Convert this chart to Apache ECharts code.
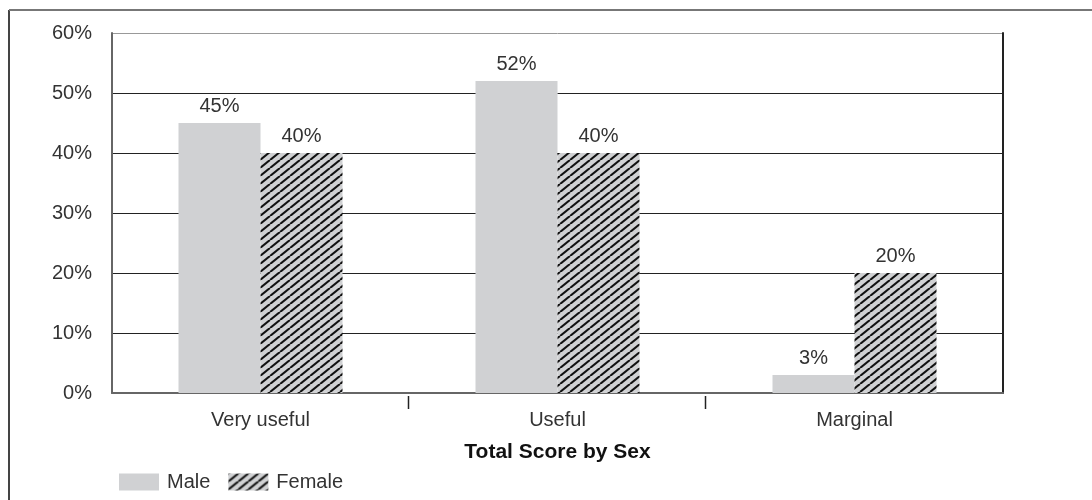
<!DOCTYPE html>
<html>
<head>
<meta charset="utf-8">
<script src="https://cdn.jsdelivr.net/npm/echarts@6/dist/echarts.min.js"></script>
<style>
html,body{margin:0;padding:0;background:#fff;}
#chart{width:1092px;height:500px;}
</style>
</head>
<body>
<div id="chart"></div>
<script>
const categories = ['Very useful', 'Useful', 'Marginal'];
const maleValues = [45, 52, 3];
const femaleValues = [40, 40, 20];
const yTicks = [0, 10, 20, 30, 40, 50, 60];
const seriesNames = ['Male', 'Female'];
const axisTitle = 'Total Score by Sex';

function hatch() {
  const c = document.createElement('canvas');
  c.width = 10; c.height = 8;
  const g = c.getContext('2d');
  g.fillStyle = '#d0d1d3';
  g.fillRect(0, 0, 10, 8);
  g.strokeStyle = '#111';
  g.lineWidth = 2.1;
  [-10, 0, 10].forEach(function (dx) {
    g.beginPath();
    g.moveTo(dx, 8);
    g.lineTo(dx + 10, 0);
    g.stroke();
  });
  return c;
}

const FONT = 'Liberation Sans';
const FS = 20;
const chart = echarts.init(document.getElementById('chart'));
const option = {
  animation: false,
  textStyle: { fontFamily: FONT },
  grid: { left: 112, right: 89, top: 33, bottom: 107, containLabel: false },
  legend: {
    left: 114, top: 467,
    itemWidth: 40, itemHeight: 17, itemGap: 18,
    icon: 'rect',
    textStyle: { fontSize: FS, color: '#333', fontFamily: FONT, padding: [0, 0, 0, 3] },
    data: seriesNames
  },
  xAxis: {
    type: 'category',
    data: categories,
    axisLine: { lineStyle: { color: '#666', width: 2 } },
    axisTick: { show: false },
    axisLabel: { fontSize: FS, color: '#333', margin: 17 },
    name: axisTitle,
    nameLocation: 'middle',
    nameGap: 49,
    nameTextStyle: { fontSize: 21, fontWeight: 'bold', color: '#111' }
  },
  yAxis: [{
    type: 'value',
    min: yTicks[0], max: yTicks[yTicks.length - 1], interval: 10,
    axisLine: { show: true, lineStyle: { color: '#666', width: 2 } },
    axisTick: { show: false },
    axisLabel: { fontSize: FS, color: '#333', margin: 20, formatter: '{value}%' },
    splitLine: { show: true, lineStyle: { color: ['#222','#222','#222','#222','#222','#222','#999'], width: 1 } }
  }, {
    type: 'value', position: 'right',
    min: yTicks[0], max: yTicks[yTicks.length - 1], interval: 10,
    axisLine: { show: true, lineStyle: { color: '#222', width: 2 } },
    axisTick: { show: false }, axisLabel: { show: false }, splitLine: { show: false }
  }],
  series: [{
    name: seriesNames[0], type: 'bar', data: maleValues,
    barWidth: 82, barGap: '0%',
    itemStyle: { color: '#d0d1d3' },
    label: { show: true, position: 'top', distance: 7, fontSize: FS, color: '#333', formatter: '{c}%' }
  }, {
    name: seriesNames[1], type: 'bar', data: femaleValues,
    barWidth: 82,
    itemStyle: { color: { image: hatch(), repeat: 'repeat' } },
    label: { show: true, position: 'top', distance: 7, fontSize: FS, color: '#333', formatter: '{c}%' }
  }]
};
chart.setOption(option);

// interior category boundary ticks, placed via the axis scale
const graphics = [
  { type: 'line', shape: { x1: 9, y1: 10, x2: 9, y2: 500 }, style: { stroke: '#444', lineWidth: 2 } },
  { type: 'line', shape: { x1: 9, y1: 10, x2: 1092, y2: 10 }, style: { stroke: '#777', lineWidth: 2 } }
];
const y0 = chart.convertToPixel({ yAxisIndex: 0 }, 0);
for (let i = 1; i < categories.length; i++) {
  const a = chart.convertToPixel({ xAxisIndex: 0 }, categories[i - 1]);
  const b = chart.convertToPixel({ xAxisIndex: 0 }, categories[i]);
  const x = Math.round((a + b) / 2) - 0.5;
  graphics.push({ type: 'line', shape: { x1: x, y1: y0 + 3, x2: x, y2: y0 + 16 }, style: { stroke: '#222', lineWidth: 1.5 } });
}
chart.setOption({ graphic: graphics });
</script>
</body>
</html>
